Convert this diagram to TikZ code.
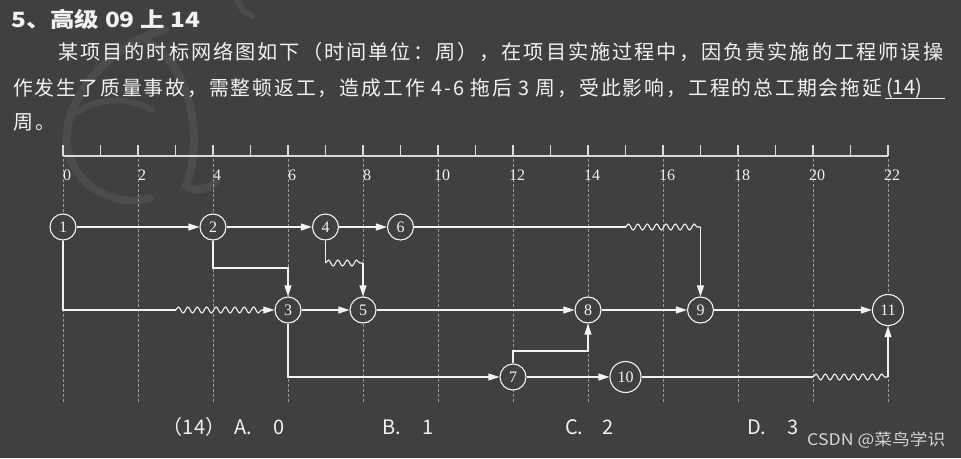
\documentclass[tikz,border=0pt]{standalone}
\usepackage{fontspec}
\usepackage{graphicx}
\setmainfont{Liberation Serif}
\newfontfamily\cjk{Noto Sans CJK SC}
\newfontfamily\cjksp[LetterSpace=10]{Noto Sans CJK SC}
\newfontfamily\tnr{Liberation Serif}
\usetikzlibrary{decorations.pathmorphing,arrows.meta}
\definecolor{bg}{HTML}{404040}
\definecolor{fg}{HTML}{F2F2F2}
\definecolor{axc}{HTML}{DADADA}
\definecolor{dashc}{HTML}{9A9A9A}
\definecolor{wm}{HTML}{D5D5D5}
\definecolor{wmark}{HTML}{4C4C4C}
\tikzset{
  txt/.style={inner sep=0pt, text=fg},
  circ/.style={circle, draw=fg, fill=bg, line width=1.1pt, minimum size=26pt, inner sep=0pt, text=fg, font=\tnr\fontsize{16}{16}\selectfont},
  bigcirc/.style={circ, minimum size=31pt},
  edge/.style={draw=fg, line width=1.2pt},
  arr/.style={edge, -{Triangle[length=11pt,width=7pt]}},
  wave/.style={draw=fg, line width=1.1pt, decorate, decoration={snake, segment length=9.4pt, amplitude=3pt}},
  axisline/.style={draw=axc, line width=1.4pt},
  grid/.style={draw=dashc, line width=0.6pt, dash pattern=on 3pt off 2pt},
  opt/.style={txt, font=\cjk\fontsize{20}{20}\selectfont},
  axlab/.style={txt, font=\tnr\fontsize{16}{16}\selectfont},
  wmstroke/.style={draw=wmark, line width=8pt, line cap=round}
}
\begin{document}
\begin{tikzpicture}[x=1pt,y=-1pt]
\fill[bg] (0,0) rectangle (961,458);
\useasboundingbox (0,0) rectangle (961,458);

% faint background watermark
\draw[wmstroke] (165,30) .. controls (110,42) and (52,108) .. (70,158) .. controls (84,196) and (128,206) .. (150,198);
\draw[wmstroke] (148,42) .. controls (186,62) and (206,130) .. (186,186) .. controls (192,192) and (208,190) .. (216,182);
\draw[wmstroke, line width=6pt] (78,112) .. controls (98,96) and (134,98) .. (152,110);
\draw[wmstroke, line width=6pt] (238,0) .. controls (240,8) and (246,14) .. (252,16);

% heading and question text
\node[txt, anchor=west] (title) at (11,19) {\resizebox{189pt}{\height}{\cjk\bfseries\fontsize{21}{21}\selectfont 5、高级 09 上 14}};
\node[txt, anchor=west] (l1) at (58,52) {\resizebox{885pt}{\height}{\cjksp\fontsize{20}{20}\selectfont 某项目的时标网络图如下（时间单位：周），在项目实施过程中，因负责实施的工程师误操}};
\node[txt, anchor=west] (l2) at (13,88) {\resizebox{869pt}{\height}{\cjksp\fontsize{20}{20}\selectfont 作发生了质量事故，需整顿返工，造成工作 4-6 拖后 3 周，受此影响，工程的总工期会拖延}};
\node[txt, anchor=west] (q14) at (886,88) {\cjk\fontsize{20}{20}\selectfont (14)};
\coordinate (u1) at (885,98);
\coordinate (u2) at (945,98);
\draw[fg, line width=1pt] (u1) -- (u2);
\node[txt, anchor=west] (l3) at (13,122) {\cjksp\fontsize{20}{20}\selectfont 周。};

% time axis
\coordinate (ax0) at (63,156);
\coordinate (ax22) at (888,156);
\foreach \i in {0,...,22}{
  \draw[axisline] (63+37.5*\i,156) -- (63+37.5*\i,145);
}
\draw[axisline] (ax0) -- (ax22);
\foreach \i in {0,2,...,22}{
  \draw[grid] (63+37.5*\i,159) -- (63+37.5*\i,402);
  \node[axlab] (t\i) at (67+37.5*\i,175) {\i};
}

% event nodes
\node[circ] (n1) at (63,227) {1};
\node[circ] (n2) at (213,227) {2};
\node[circ] (n4) at (325.5,227) {4};
\node[circ] (n6) at (400.5,227) {6};
\node[circ] (n3) at (288,310) {3};
\node[circ] (n5) at (363,310) {5};
\node[circ] (n8) at (588,310) {8};
\node[circ] (n9) at (700.5,310) {9};
\node[bigcirc] (n11) at (888,310) {11};
\node[circ] (n7) at (513,377) {7};
\node[bigcirc] (n10) at (625.5,377) {10};

% helper coordinates
\coordinate (w13a) at (175.5,310);
\coordinate (w13b) at (263,310);
\coordinate (c23) at (288,268);
\coordinate (w45a) at (325.5,263);
\coordinate (w45b) at (363,263);
\coordinate (w69a) at (625.5,227);
\coordinate (w69b) at (700.5,227);
\coordinate (c78) at (588,351);
\coordinate (w1011a) at (813,377);
\coordinate (w1011b) at (888,377);

% activities
\draw[arr] (n1) -- (n2);
\draw[arr] (n2) -- (n4);
\draw[arr] (n4) -- (n6);
\draw[edge] (n1.south) |- (w13a);
\draw[wave] (w13a) -- (w13b);
\draw[arr] (w13b) -- (n3.west);
\draw[arr] (n2.south) |- (c23) -- (n3.north);
\draw[edge] (n4.south) -- (w45a);
\draw[wave] (w45a) -- (w45b);
\draw[arr] (w45b) -- (n5.north);
\draw[edge] (n6.east) -- (w69a);
\draw[wave] (w69a) -- (w69b);
\draw[arr] (w69b) -- (n9.north);
\draw[arr] (n3) -- (n5);
\draw[arr] (n5) -- (n8);
\draw[arr] (n8) -- (n9);
\draw[arr] (n9) -- (n11);
\draw[arr] (n3.south) |- (n7.west);
\draw[arr] (n7.north) |- (c78) -- (n8.south);
\draw[arr] (n7) -- (n10);
\draw[edge] (n10.east) -- (w1011a);
\draw[wave] (w1011a) -- (w1011b);
\draw[arr] (w1011b) -- (n11.south);

% options
\node[opt] (o14) at (194,427) {（14）};
\node[opt, anchor=west] (oA) at (234,427) {A.};
\node[opt] (vA) at (279,427) {0};
\node[opt, anchor=west] (oB) at (382,427) {B.};
\node[opt] (vB) at (428,427) {1};
\node[opt, anchor=west] (oC) at (565,427) {C.};
\node[opt] (vC) at (608,427) {2};
\node[opt, anchor=west] (oD) at (747,427) {D.};
\node[opt] (vD) at (793,427) {3};

% source mark
\node[inner sep=0pt, text=wm, anchor=west] (csdn) at (807,440) {\resizebox{138pt}{\height}{\cjk\fontsize{16}{16}\selectfont CSDN @菜鸟学识}};
\end{tikzpicture}
\end{document}
